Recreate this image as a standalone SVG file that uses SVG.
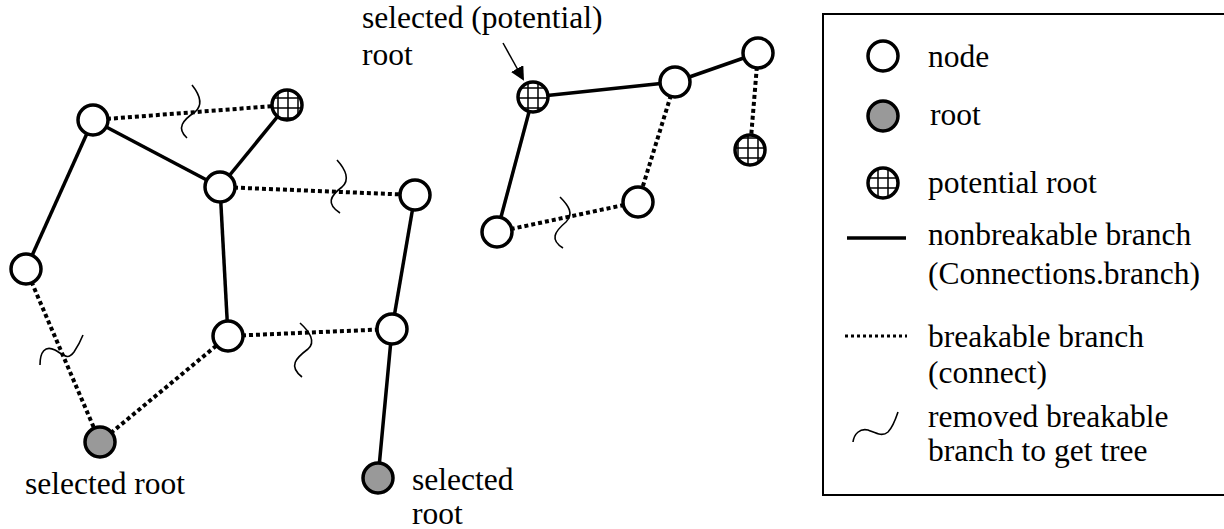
<svg xmlns="http://www.w3.org/2000/svg" width="1224" height="529" viewBox="0 0 1224 529">
<style>
.t{font-family:"Liberation Serif","Times New Roman",serif;font-size:31.5px;fill:#000}
.solid{stroke:#000;stroke-width:3.5;fill:none}
.dot{stroke:#000;stroke-width:4;stroke-dasharray:4 3;fill:none}
.sq{stroke:#000;stroke-width:1.6;fill:none}
.n{fill:#fff;stroke:#000;stroke-width:3.5}
.r{fill:#999;stroke:#000;stroke-width:3.5}
.p{fill:url(#grid);stroke:#000;stroke-width:3.5}
</style>
<defs>
<pattern id="grid" patternUnits="userSpaceOnUse" width="10" height="10" x="3" y="3">
<rect width="10" height="10" fill="#fff"/>
<path d="M5,0V10M0,5H10" stroke="#000" stroke-width="1.5"/>
</pattern>
<marker id="ah" markerWidth="14" markerHeight="14" refX="12" refY="7" orient="auto" markerUnits="userSpaceOnUse">
<path d="M0,0L14,7L0,14z" fill="#000"/>
</marker>
</defs>
<rect x="823" y="14" width="420" height="481" fill="#fff" stroke="#000" stroke-width="2"/>
<g id="connectors">
<line class="solid" x1="93" y1="120" x2="26" y2="269"/>
<line class="solid" x1="93" y1="120" x2="220" y2="187"/>
<line class="solid" x1="220" y1="187" x2="287" y2="105"/>
<line class="solid" x1="220" y1="187" x2="228" y2="336"/>
<line class="solid" x1="415" y1="195" x2="392" y2="329"/>
<line class="solid" x1="392" y1="329" x2="378" y2="478"/>
<line class="solid" x1="533" y1="97" x2="675" y2="82"/>
<line class="solid" x1="675" y1="82" x2="758" y2="53"/>
<line class="solid" x1="533" y1="97" x2="497" y2="232"/>
<line class="dot" x1="93" y1="120" x2="287" y2="105"/>
<line class="dot" x1="220" y1="187" x2="415" y2="195"/>
<line class="dot" x1="26" y1="269" x2="100" y2="442"/>
<line class="dot" x1="100" y1="442" x2="228" y2="336"/>
<line class="dot" x1="228" y1="336" x2="392" y2="329"/>
<line class="dot" x1="675" y1="82" x2="638" y2="202"/>
<line class="dot" x1="758" y1="53" x2="750" y2="150"/>
<line class="dot" x1="497" y1="232" x2="638" y2="202"/>
<path class="sq" d="M192,85 C200,95 203,105 195,112 C183,120 176,128 187,138"/>
<path class="sq" d="M337,160 C346,170 350,180 342,187 C330,196 326,204 340,213"/>
<path class="sq" d="M40,365 C40,352 45,345 55,350 C65,356 68,360 74,352 C78,346 81,340 83,335"/>
<path class="sq" d="M300,323 C310,332 316,342 308,349 C296,358 288,366 302,377"/>
<path class="sq" d="M560,197 C569,206 574,214 566,222 C554,232 550,240 563,248"/>
<line x1="503" y1="43" x2="523" y2="79" stroke="#000" stroke-width="1.5" marker-end="url(#ah)"/>
</g>
<g id="nA"><circle class="n" cx="93" cy="120" r="15"/></g>
<g id="nP1"><circle class="p" cx="287" cy="105" r="15"/></g>
<g id="nB"><circle class="n" cx="220" cy="187" r="15"/></g>
<g id="nC"><circle class="n" cx="415" cy="195" r="15"/></g>
<g id="nD"><circle class="n" cx="26" cy="269" r="15"/></g>
<g id="nE"><circle class="n" cx="228" cy="336" r="15"/></g>
<g id="nF"><circle class="n" cx="392" cy="329" r="15"/></g>
<g id="nR1"><circle class="r" cx="100" cy="442" r="15"/><text class="t" x="25" y="494">selected root</text></g>
<g id="nR2"><circle class="r" cx="378" cy="478" r="15"/><text class="t" x="412" y="490">selected</text><text class="t" x="412" y="524">root</text></g>
<g id="nP2"><circle class="p" cx="533" cy="97" r="15"/><text class="t" x="362" y="28">selected (potential)</text><text class="t" x="362" y="65">root</text></g>
<g id="nG"><circle class="n" cx="675" cy="82" r="15"/></g>
<g id="nH"><circle class="n" cx="758" cy="53" r="15"/></g>
<g id="nP3"><circle class="p" cx="750" cy="150" r="15"/></g>
<g id="nI"><circle class="n" cx="638" cy="202" r="15"/></g>
<g id="nJ"><circle class="n" cx="497" cy="232" r="15"/></g>
<g id="legend">
<circle class="n" cx="883" cy="56" r="15"/><text class="t" x="928" y="67">node</text>
<circle class="r" cx="883" cy="116" r="15"/><text class="t" x="930" y="125">root</text>
<circle class="p" cx="883" cy="183" r="15"/><text class="t" x="928" y="193">potential root</text>
<line x1="847" y1="238" x2="906" y2="238" stroke="#000" stroke-width="3.5"/>
<text class="t" x="928" y="245">nonbreakable branch</text>
<text class="t" x="928" y="284">(Connections.branch)</text>
<line x1="845" y1="336" x2="907" y2="336" stroke="#000" stroke-width="3" stroke-dasharray="3 3"/>
<text class="t" x="928" y="347">breakable branch</text>
<text class="t" x="928" y="383">(connect)</text>
<path class="sq" d="M853,442 C854,434 860,428 868,430 C876,433 882,437 888,432 C893,427 896,418 898,412"/>
<text class="t" x="928" y="427">removed breakable</text>
<text class="t" x="928" y="461">branch to get tree</text>
</g>
</svg>
